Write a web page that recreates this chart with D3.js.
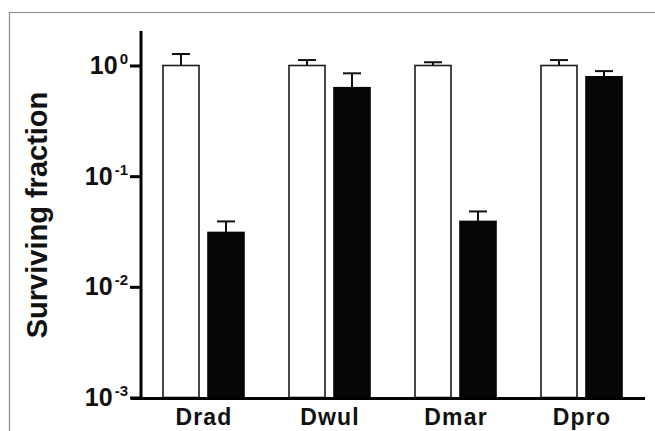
<!DOCTYPE html>
<html>
<head>
<meta charset="utf-8">
<script src="https://cdn.jsdelivr.net/npm/d3@7"></script>
<style>
  body { margin: 0; background: #fff; }
  text { font-family: "Liberation Sans", Arial, sans-serif; font-weight: bold; fill: #111; }
</style>
</head>
<body>
<div id="chart"></div>
<script>
// data
var strains = ["Drad", "Dwul", "Dmar", "Dpro"];
var series = ["control", "treated"];
var controlValues = [1.0, 1.0, 1.0, 1.0];
var controlErrors = [0.27, 0.12, 0.07, 0.12];
var treatedValues = [0.031, 0.63, 0.039, 0.79];
var treatedErrors = [0.008, 0.22, 0.009, 0.10];
var tickValues = [1e-3, 1e-2, 1e-1, 1];
var tickExponents = ["-3", "-2", "-1", "0"];

var width = 655, height = 431;

var svg = d3.select("#chart").append("svg")
    .attr("width", width)
    .attr("height", height);

// thin grey frame round the figure
svg.append("path")
    .attr("d", "M9.5,431 V12.5 H655")
    .attr("fill", "none")
    .attr("stroke", "#8a8a8a")
    .attr("stroke-width", 1.2);

let y = d3.scaleLog().domain([1e-3, 2.05]).range([397.5, 31]);
let x = d3.scaleBand().domain(strains).range([141, 645]).padding(0);
let inner = d3.scaleBand().domain(series).range([22, 103]).paddingInner(0.2).paddingOuter(0);

// build rows for the bars
var rows = [];
strains.forEach(function(s, i) {
    rows.push({strain: s, series: "control", value: controlValues[i], err: controlErrors[i]});
    rows.push({strain: s, series: "treated", value: treatedValues[i], err: treatedErrors[i]});
});

let bars = svg.append("g");
bars.selectAll("rect")
    .data(rows)
    .enter().append("rect")
    .attr("x", d => x(d.strain) + inner(d.series))
    .attr("y", d => y(d.value))
    .attr("width", inner.bandwidth())
    .attr("height", d => y(1e-3) - y(d.value))
    .attr("fill", d => d.series == "control" ? "#fff" : "#060606")
    .attr("stroke", d => d.series == "control" ? "#1c1c1c" : "#060606")
    .attr("stroke-width", 1.6);

// upper error bars
let errs = svg.append("g")
    .attr("stroke", "#111")
    .attr("stroke-width", 2);
rows.forEach(function(d) {
    let cx = x(d.strain) + inner(d.series) + inner.bandwidth() / 2;
    errs.append("line")
        .attr("x1", cx).attr("x2", cx)
        .attr("y1", y(d.value)).attr("y2", y(d.value + d.err));
    errs.append("line")
        .attr("x1", cx - 9).attr("x2", cx + 9)
        .attr("y1", y(d.value + d.err)).attr("y2", y(d.value + d.err));
});

// y axis
let yAxis = svg.append("g")
    .attr("transform", "translate(141,0)")
    .call(d3.axisLeft(y).tickValues(tickValues).tickSize(11).tickFormat(""));
yAxis.select(".domain").attr("d", "M0,31 V400").attr("stroke", "#000").attr("stroke-width", 3);
yAxis.selectAll(".tick line").attr("stroke", "#000").attr("stroke-width", 3);

// tick labels as 10 with superscript exponent
tickValues.forEach(function(v, i) {
    let t = svg.append("text")
        .attr("x", 128)
        .attr("y", y(v) + 8.5)
        .attr("text-anchor", "end")
        .style("font-size", "25px");
    t.append("tspan").text("10");
    t.append("tspan")
        .attr("dx", 2)
        .attr("dy", -10)
        .style("font-size", "15px")
        .text(tickExponents[i]);
});

// x axis
let xAxis = svg.append("g")
    .attr("transform", "translate(0,398.5)")
    .call(d3.axisBottom(x).tickSize(0).tickPadding(0));
xAxis.select(".domain").attr("d", "M131,0 H645").attr("stroke", "#000").attr("stroke-width", 3);
xAxis.selectAll(".tick text")
    .attr("dy", 0)
    .attr("y", 26.5)
    .style("font-size", "23px")
    .style("letter-spacing", "1.2px")
    .style("font-family", "'Liberation Sans', Arial, sans-serif")
    .style("font-weight", "bold")
    .attr("fill", "#111");

// y axis title
svg.append("text")
    .attr("transform", "translate(47,215) rotate(-90)")
    .attr("text-anchor", "middle")
    .style("font-size", "29px")
    .text("Surviving fraction");
</script>
</body>
</html>
